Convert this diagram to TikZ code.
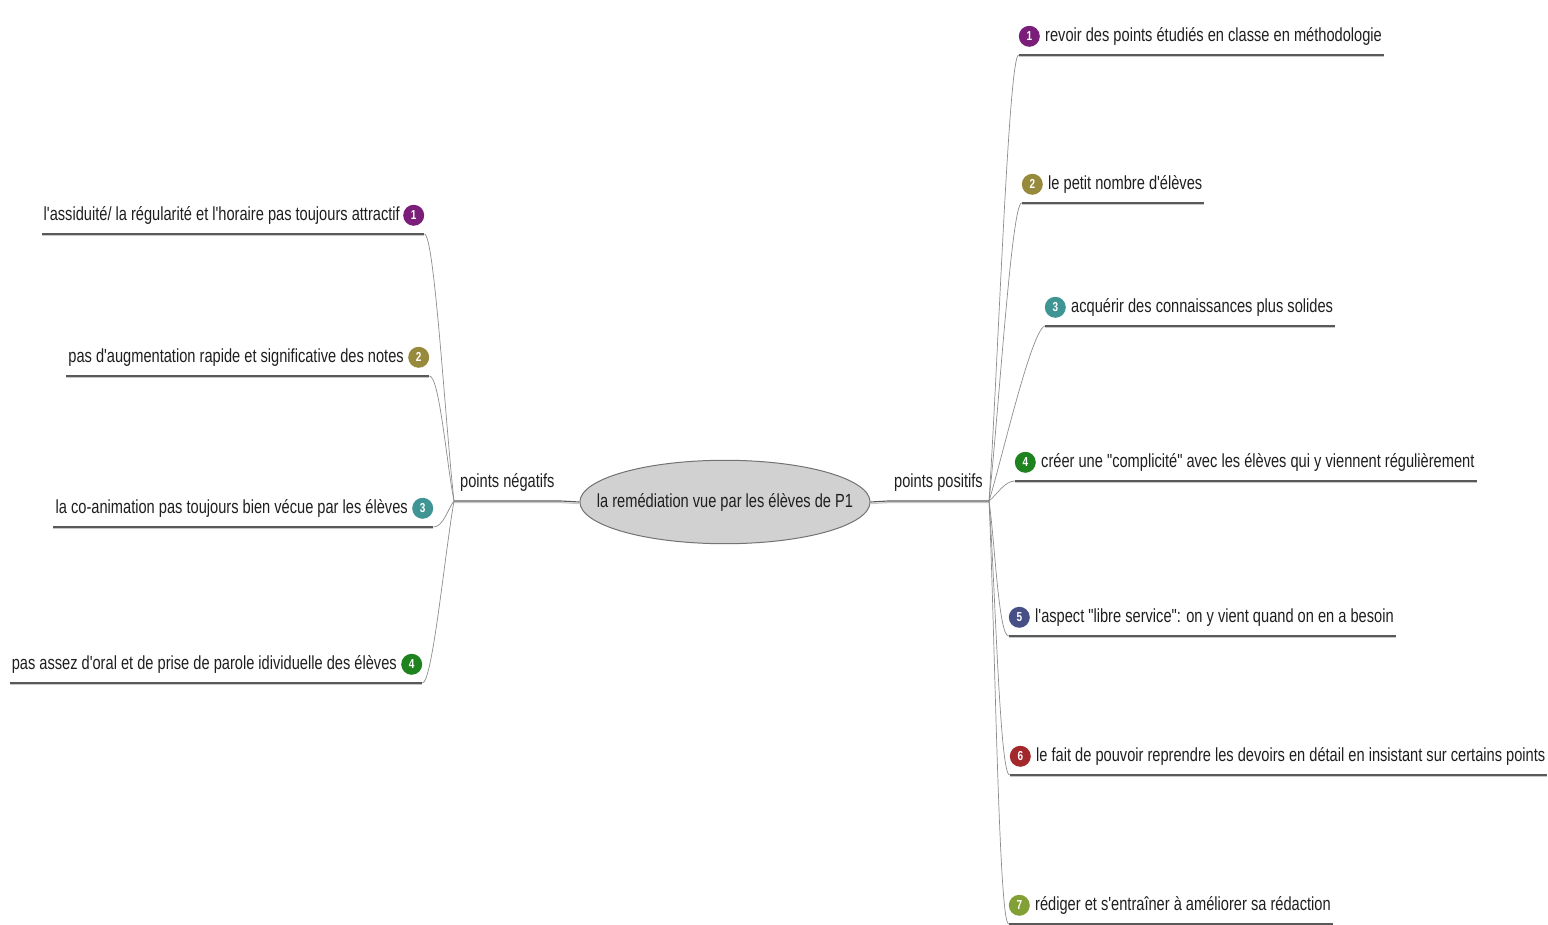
\documentclass[tikz,border=0pt]{standalone}
\usepackage{fontspec}
\setmainfont{Liberation Sans}[FakeStretch=0.77, Ligatures=TeXOff]
\usetikzlibrary{shapes.geometric,positioning,calc}
\usepackage{xcolor}
\definecolor{badgeA}{HTML}{7A1E7A}
\definecolor{badgeB}{HTML}{978A3C}
\definecolor{badgeC}{HTML}{3F9494}
\definecolor{badgeD}{HTML}{1E821E}
\definecolor{badgeE}{HTML}{474F87}
\definecolor{badgeF}{HTML}{A3282B}
\definecolor{badgeG}{HTML}{82A035}

\tikzset{
  every node/.style={font=\fontsize{19}{22}\selectfont, text=black!88},
  leaf/.style={inner xsep=2pt, inner ysep=9pt, text height=15pt, text depth=4pt},
  hub/.style={leaf, inner xsep=6pt},
  root/.style={ellipse, draw=black!55, line width=1pt, fill=black!18, inner xsep=-25.5pt, inner ysep=20.5pt, text height=14pt, text depth=4pt},
  badge/.style={circle, fill=#1, inner sep=0pt, minimum size=21pt, text=white, font=\fontsize{13}{13}\selectfont\bfseries},
  uline/.style={draw=black!65, line width=1.1pt, preaction={draw=black!22, line width=1.2pt, transform canvas={yshift=-1.6pt}}},
  twig/.style={draw=black!45, line width=0.7pt},
}

\begin{document}
\begin{tikzpicture}[x=1pt,y=-1pt]
\useasboundingbox (0,0) rectangle (1548,925);

% Root Node
\node[root] (root) at (725,502) {la remédiation vue par les élèves de P1};
% Hub Nodes
\node[hub, anchor=south west] (neg) at (454,501) {points négatifs};
\node[hub, anchor=south east] (pos) at (989,501) {points positifs};

% Text Node - negative side
\node[leaf, anchor=south east] (nl1) at (402,234) {l'assiduité/ la régularité et l'horaire pas toujours attractif};
\node[badge=badgeA, right=1pt of nl1] (nb1) {1};
\node[leaf, anchor=south east] (nl2) at (406,376) {pas d'augmentation rapide et significative des notes};
\node[badge=badgeB, right=2pt of nl2] (nb2) {2};
\node[leaf, anchor=south east] (nl3) at (410,527) {la co-animation pas toujours bien vécue par les élèves};
\node[badge=badgeC, right=2pt of nl3] (nb3) {3};
\node[leaf, anchor=south east] (nl4) at (399,683) {pas assez d'oral et de prise de parole idividuelle des élèves};
\node[badge=badgeD, right=2pt of nl4] (nb4) {4};

% Text Node - positive side
\node[leaf, anchor=south west] (pr1) at (1043,55) {revoir des points étudiés en classe en méthodologie};
\node[badge=badgeA, left=3pt of pr1] (pb1) {1};
\node[leaf, anchor=south west] (pr2) at (1046,203) {le petit nombre d'élèves};
\node[badge=badgeB, left=3pt of pr2] (pb2) {2};
\node[leaf, anchor=south west] (pr3) at (1069,326) {acquérir des connaissances plus solides};
\node[badge=badgeC, left=3pt of pr3] (pb3) {3};
\node[leaf, anchor=south west] (pr4) at (1039,481) {créer une "complicité" avec les élèves qui y viennent régulièrement};
\node[badge=badgeD, left=3pt of pr4] (pb4) {4};
\node[leaf, anchor=south west] (pr5) at (1033,636) {l'aspect "libre service": on y vient quand on en a besoin};
\node[badge=badgeE, left=3pt of pr5] (pb5) {5};
\node[leaf, anchor=south west] (pr6) at (1034,775) {le fait de pouvoir reprendre les devoirs en détail en insistant sur certains points};
\node[badge=badgeF, left=3pt of pr6] (pb6) {6};
\node[leaf, anchor=south west] (pr7) at (1033,924) {rédiger et s'entraîner à améliorer sa rédaction};
\node[badge=badgeG, left=3pt of pr7] (pb7) {7};

% Line ends
\coordinate (nl1e) at (nb1.east |- nl1.south);
\coordinate (nl2e) at (nb2.east |- nl2.south);
\coordinate (nl3e) at (nb3.east |- nl3.south);
\coordinate (nl4e) at (nb4.east |- nl4.south);
\coordinate (pr1e) at (pb1.west |- pr1.south);
\coordinate (pr2e) at (pb2.west |- pr2.south);
\coordinate (pr3e) at (pb3.west |- pr3.south);
\coordinate (pr4e) at (pb4.west |- pr4.south);
\coordinate (pr5e) at (pb5.west |- pr5.south);
\coordinate (pr6e) at (pb6.west |- pr6.south);
\coordinate (pr7e) at (pb7.west |- pr7.south);

%Straight Lines - hubs to root
\draw[uline] (neg.south west) -- (neg.south east) -- (root.west);
\draw[uline] (root.east) -- (pos.south west) -- (pos.south east);

%Straight Lines - underlines
\draw[uline] (nl1.south west) -- (nl1e);
\draw[uline] (nl2.south west) -- (nl2e);
\draw[uline] (nl3.south west) -- (nl3e);
\draw[uline] (nl4.south west) -- (nl4e);
\draw[uline] (pr1e) -- (pr1.south east);
\draw[uline] (pr2e) -- (pr2.south east);
\draw[uline] (pr3e) -- (pr3.south east);
\draw[uline] (pr4e) -- (pr4.south east);
\draw[uline] (pr5e) -- (pr5.south east);
\draw[uline] (pr6e) -- (pr6.south east);
\draw[uline] (pr7e) -- (pr7.south east);

%Curves - negative branches
\draw[twig] (neg.south west) .. controls ($(neg.south west)!0.3!(nl1e)$) and ($(nl1e)+(10,0)$) .. (nl1e);
\draw[twig] (neg.south west) .. controls ($(neg.south west)!0.3!(nl2e)$) and ($(nl2e)+(10,0)$) .. (nl2e);
\draw[twig] (neg.south west) .. controls ($(neg.south west)!0.3!(nl3e)$) and ($(nl3e)+(10,0)$) .. (nl3e);
\draw[twig] (neg.south west) .. controls ($(neg.south west)!0.3!(nl4e)$) and ($(nl4e)+(10,0)$) .. (nl4e);

%Curves - positive branches
\draw[twig] (pos.south east) .. controls ($(pos.south east)!0.3!(pr1e)$) and ($(pr1e)+(-10,0)$) .. (pr1e);
\draw[twig] (pos.south east) .. controls ($(pos.south east)!0.3!(pr2e)$) and ($(pr2e)+(-10,0)$) .. (pr2e);
\draw[twig] (pos.south east) .. controls ($(pos.south east)!0.2!(pr3e)$) and ($(pr3e)+(-14,6)$) .. (pr3e);
\draw[twig] (pos.south east) .. controls ($(pos.south east)!0.3!(pr4e)$) and ($(pr4e)+(-10,0)$) .. (pr4e);
\draw[twig] (pos.south east) .. controls ($(pos.south east)!0.3!(pr5e)$) and ($(pr5e)+(-10,0)$) .. (pr5e);
\draw[twig] (pos.south east) .. controls ($(pos.south east)!0.3!(pr6e)$) and ($(pr6e)+(-10,0)$) .. (pr6e);
\draw[twig] (pos.south east) .. controls ($(pos.south east)!0.3!(pr7e)$) and ($(pr7e)+(-10,0)$) .. (pr7e);

\end{tikzpicture}
\end{document}
